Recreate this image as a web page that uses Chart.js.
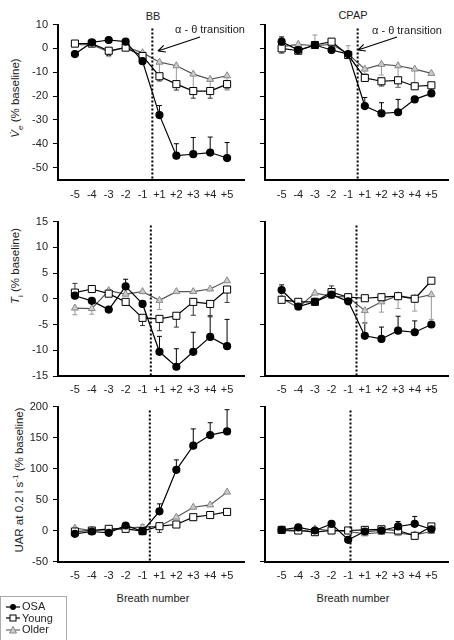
<!DOCTYPE html>
<html lang="en">
<head>
<meta charset="UTF-8">
<title>Breath transition panels</title>
<style>
  body { margin: 0; width: 454px; height: 640px; position: relative; overflow: hidden; background: #fff;
         font-family: "Liberation Sans", Arial, sans-serif; color: #222; }
  canvas { position: absolute; }
  .t { position: absolute; font-size: 11px; white-space: nowrap; transform: translate(-50%, -50%); }
  .yl { position: absolute; font-size: 11.5px; white-space: nowrap; transform: translate(-50%, -50%) rotate(-90deg); }
  .yl sub, .yl sup { font-size: 8px; }
  #legend { position: absolute; left: 0; top: 596px; width: 65px; height: 50px; border: 1px solid #aaa; font-size: 11px; }
  #legend div { height: 11.5px; line-height: 11.5px; display: flex; align-items: center; margin-left: 5px; }
  #legend svg { margin-right: 2px; }
</style>
</head>
<body>
<div class="t" style="left:153px;top:16px">BB</div>
<div class="t" style="left:353px;top:15px">CPAP</div>
<div class="yl" style="left:17px;top:98px"><i>V&#775;</i><sub><i>e</i></sub> (% baseline)</div>
<div class="yl" style="left:17px;top:266px"><i>T</i><sub>i</sub> (% baseline)</div>
<div class="yl" style="left:18px;top:480px">UAR at 0.2 l s<sup>-1</sup> (% baseline)</div>
<div class="t" style="left:153px;top:598px">Breath number</div>
<div class="t" style="left:353px;top:598px">Breath number</div>

<canvas id="bbVe" width="250" height="200" style="left:0;top:10px"></canvas>
<canvas id="cpapVe" width="204" height="200" style="left:250px;top:10px"></canvas>
<canvas id="bbTi" width="250" height="190" style="left:0;top:210px"></canvas>
<canvas id="cpapTi" width="204" height="190" style="left:250px;top:210px"></canvas>
<canvas id="bbUar" width="250" height="200" style="left:0;top:395px"></canvas>
<canvas id="cpapUar" width="204" height="200" style="left:250px;top:395px"></canvas>

<div id="legend" style="padding-top:4px">
  <div><svg width="14" height="8"><line x1="0" y1="4" x2="14" y2="4" stroke="#000" stroke-width="1.2"/><circle cx="7" cy="4" r="3" fill="#000"/></svg>OSA</div>
  <div><svg width="14" height="8"><line x1="0" y1="4" x2="14" y2="4" stroke="#000" stroke-width="1.2"/><rect x="4" y="1" width="6" height="6" fill="#fff" stroke="#000"/></svg>Young</div>
  <div><svg width="14" height="8"><line x1="0" y1="4" x2="14" y2="4" stroke="#666" stroke-width="1.2"/><polygon points="7,0.5 10.5,7 3.5,7" fill="#ccc" stroke="#888"/></svg>Older</div>
</div>

<script src="https://cdn.jsdelivr.net/npm/chart.js"></script>
<script>
  const breaths = ['-5', '-4', '-3', '-2', '-1', '+1', '+2', '+3', '+4', '+5'];

  // Ve (% baseline)
  const bbVeOSA     = [-2.4, 2.5, 3.5, 2.8, -5.4, -28, -45, -44.4, -43.7, -46];
  const bbVeYoung   = [2, 2, -1, 0.3, -3.2, -11.7, -15, -17.9, -17.9, -15];
  const bbVeOlder   = [1.5, 1.5, -1.5, 0.5, -1.8, -5.8, -7.3, -10.8, -13, -11.5];
  const cpapVeOSA   = [2.8, -0.7, 1.4, -0.7, -2.4, -24.2, -27.3, -26.8, -21.4, -18.9];
  const cpapVeYoung = [0, -1, 1.4, 2.8, -2.8, -12.4, -13.8, -13.4, -15.9, -15.5];
  const cpapVeOlder = [0.7, 1.7, 1.1, 1.7, -2.4, -8.7, -6.7, -7.3, -8.7, -10.5];

  // Ti (% baseline)
  const bbTiOSA     = [0.6, -0.4, -2.1, 2.4, -1, -10.3, -13.2, -10.3, -7.4, -9.2];
  const bbTiYoung   = [1.2, 1.9, 1, -0.6, -3.7, -3.9, -3.3, -0.6, -1, 1.8];
  const bbTiOlder   = [-1.8, -1.9, 1.6, 0.9, 1.4, -0.3, 1.4, 1.4, 1.9, 3.5];
  const cpapTiOSA   = [1.7, -1.5, -0.6, 0.8, -0.5, -7.2, -7.8, -6.2, -6.5, -5];
  const cpapTiYoung = [-0.2, -0.6, -0.6, 1.3, 0.3, 0.1, 0.3, 0.5, 0, 3.5];
  const cpapTiOlder = [0.1, -1.7, 1.1, 0.5, 0.3, -2.3, -0.6, 0.6, 0.1, 0.8];

  // UAR at 0.2 l/s (% baseline)
  const bbUarOSA     = [-5.4, -1.6, -3.8, 8.1, -1.1, 31, 98, 137, 154, 160];
  const bbUarYoung   = [-1.6, 0, 2.7, 2.7, -1, 7, 9.7, 21.5, 25, 30];
  const bbUarOlder   = [3.8, 0, 1, 4.3, 5.4, 7, 21.5, 37.6, 41.3, 62];
  const cpapUarOSA   = [1, 5, 0, 10.7, -15, -1.6, 0, 6.5, 10.7, 2];
  const cpapUarYoung = [1, 0, -2.7, 0, 0, 1, 2, 0, -8.6, 6.5];
  const cpapUarOlder = [0, -1.6, 2.7, -0.5, -1.6, -5.4, -3.2, -4.3, -7, -1.6];

  // error bars, signed: + drawn upward, - drawn downward
  const bbVeOSAErr     = [0, 0, 0, 0, 0, 4, 5, 7, 6.5, 6.5];
  const bbVeYoungErr   = [0, 0, -2, 0, 0, -2, -2.5, -3, -3, -2];
  const bbVeOlderErr   = [0, 0, -2, 0, 0, -7, -8, -7, -5, -6];
  const cpapVeOSAErr   = [2, 0, 0, 0, 0, 3.6, 4.5, 5.4, 0, 0];
  const cpapVeYoungErr = [-2, 0, 0, 0, 0, 0, -2, -3, 0, -2];
  const cpapVeOlderErr = [0, 0, 4.5, 0, 3.5, -2, -4.5, -9, -6, 0];
  const bbTiOSAErr     = [0, 0, 0, 1.4, 0, 3, 3.5, 3.8, 4.1, 5.2];
  const bbTiYoungErr   = [1.8, 0, 0, 0, -1.5, -2.3, -2.2, -2.6, -2.5, -2.5];
  const bbTiOlderErr   = [-1.3, -1.1, 0, 0, 0, -1.8, 0, 0, 0, 0];
  const cpapTiOSAErr   = [1, 0, 0, 0, 0, 2.5, 2.3, 2.8, 2.2, 0];
  const cpapTiYoungErr = [0, 0, 0, 1.2, 0, 0, 0, 0, 0, 0];
  const cpapTiOlderErr = [0, -0.5, 0, 0, 0, -2.5, -2, -2.5, -2.5, -4.8];
  const bbUarOSAErr    = [0, 0, 0, 0, 0, 12, 16, 27, 20, 35];
  const bbUarYoungErr  = [0, 0, 0, 0, 0, -10, 0, -5, 0, 0];
  const bbUarOlderErr  = [0, 0, 0, 0, 4, 0, 0, 0, 0, 0];
  const cpapUarOSAErr  = [0, 0, 0, 0, 0, 0, 0, 8, 12, 0];
  const cpapUarYoungErr = [0, 0, 0, 0, 0, 0, 0, 0, 0, 0];
  const cpapUarOlderErr = [0, 0, 0, 0, 0, 0, 0, -4, 0, -3];

  // where the dotted alpha-theta line sits (breath index)
  const transitionBB = [4.58, 4.49, 4.43];
  const transitionCPAP = [4.57, 4.5, 4.14];

  const FONT = '"Liberation Sans", Arial, sans-serif';

  const errorBars = {
    id: 'errorBars',
    beforeDatasetsDraw(chart) {
      const { ctx, scales: { x, y } } = chart;
      chart.data.datasets.forEach(ds => {
        ctx.save();
        ctx.strokeStyle = ds.errColor;
        ctx.lineWidth = 1;
        ds.data.forEach((p, j) => {
          const e = ds.errors[j];
          if (!e) return;
          const px = x.getPixelForValue(p.x);
          const y0 = y.getPixelForValue(p.y), y1 = y.getPixelForValue(p.y + e);
          ctx.beginPath();
          ctx.moveTo(px, y0); ctx.lineTo(px, y1);
          ctx.moveTo(px - 2.5, y1); ctx.lineTo(px + 2.5, y1);
          ctx.stroke();
        });
        ctx.restore();
      });
    }
  };

  const transitionLine = {
    id: 'transition',
    afterDatasetsDraw(chart, args, o) {
      const { ctx, chartArea, scales: { x } } = chart;
      const px = x.getPixelForValue(o.at);
      ctx.save();
      ctx.strokeStyle = '#000';
      ctx.lineWidth = 2;
      ctx.setLineDash([2, 2]);
      ctx.beginPath();
      ctx.moveTo(px, chartArea.top + 4);
      ctx.lineTo(px, chartArea.bottom);
      ctx.stroke();
      ctx.restore();
    }
  };

  const note = {
    id: 'note',
    afterDraw(chart, args, o) {
      if (!o.text) return;
      const ctx = chart.ctx;
      ctx.save();
      ctx.font = '11px ' + FONT;
      ctx.fillStyle = '#222';
      ctx.textBaseline = 'middle';
      ctx.fillText(o.text, o.tx, o.ty);
      const [x0, y0, x1, y1] = o.arrow;
      const a = Math.atan2(y1 - y0, x1 - x0);
      ctx.strokeStyle = '#000';
      ctx.lineWidth = 1.2;
      ctx.beginPath();
      ctx.moveTo(x0, y0); ctx.lineTo(x1, y1);
      for (const s of [-0.45, 0.45]) {
        ctx.moveTo(x1, y1);
        ctx.lineTo(x1 - 8 * Math.cos(a + s), y1 - 8 * Math.sin(a + s));
      }
      ctx.stroke();
      ctx.restore();
    }
  };

  const pts = arr => arr.map((v, i) => ({ x: i, y: v }));

  function makePanel(id, osa, young, older, errs, y, at, labels, pad, xh, tickPad, noteOpts) {
    new Chart(document.getElementById(id), {
      type: 'line',
      data: {
        datasets: [
          { label: 'OSA', data: pts(osa), errors: errs[0], errColor: '#000',
            borderColor: '#000', borderWidth: 1.2, pointStyle: 'circle', pointRadius: 3.5,
            pointBackgroundColor: '#000', pointBorderColor: '#000' },
          { label: 'Young', data: pts(young), errors: errs[1], errColor: '#333',
            borderColor: '#000', borderWidth: 1.2, pointStyle: 'rect', pointRadius: 5,
            pointBackgroundColor: '#fff', pointBorderColor: '#000', pointBorderWidth: 1 },
          { label: 'Older', data: pts(older), errors: errs[2], errColor: '#999',
            borderColor: '#555', borderWidth: 1.2, pointStyle: 'triangle', pointRadius: 4,
            pointBackgroundColor: '#ccc', pointBorderColor: '#888', pointBorderWidth: 1 }
        ]
      },
      options: {
        responsive: false,
        animation: false,
        layout: { padding: { top: pad.top, right: pad.right, left: 0, bottom: 0 } },
        plugins: {
          legend: { display: false },
          tooltip: { enabled: false },
          transition: { at: at },
          note: noteOpts || {}
        },
        scales: {
          x: {
            type: 'linear', min: -1, max: 10,
            afterBuildTicks: s => { s.ticks = breaths.map((b, i) => ({ value: i })); },
            afterFit: s => { s.height = xh; },
            grid: { drawOnChartArea: false, drawTicks: false, color: 'rgba(0,0,0,0)' },
            border: { display: true, color: '#000', width: 2 },
            ticks: { padding: tickPad, color: '#222', font: { family: FONT, size: 11 },
                     maxRotation: 0, autoSkip: false, callback: v => breaths[v] }
          },
          y: {
            min: y.min, max: y.max,
            afterFit: s => { s.width = labels ? 58 : 15; },
            grid: { drawOnChartArea: false, drawTicks: true, tickLength: 5, color: '#000' },
            border: { display: true, color: '#000', width: 2 },
            ticks: { display: labels, stepSize: y.step, includeBounds: false, padding: 5,
                     color: '#222', font: { family: FONT, size: 11 } }
          }
        }
      },
      plugins: [errorBars, transitionLine, note]
    });
  }

  makePanel('bbVe', bbVeOSA, bbVeYoung, bbVeOlder, [bbVeOSAErr, bbVeYoungErr, bbVeOlderErr],
    { min: -55, max: 10, step: 10 }, transitionBB[0], true, { top: 14.5, right: 2 }, 30.5, 8.5,
    { text: '\u03b1 - \u03b8 transition', tx: 175, ty: 20, arrow: [200, 27, 158, 41] });
  makePanel('cpapVe', cpapVeOSA, cpapVeYoung, cpapVeOlder, [cpapVeOSAErr, cpapVeYoungErr, cpapVeOlderErr],
    { min: -55, max: 10, step: 10 }, transitionCPAP[0], false, { top: 14.5, right: 0 }, 30.5, 8.5,
    { text: '\u03b1 - \u03b8 transition', tx: 122, ty: 21, arrow: [147, 27, 108, 40] });
  makePanel('bbTi', bbTiOSA, bbTiYoung, bbTiOlder, [bbTiOSAErr, bbTiYoungErr, bbTiOlderErr],
    { min: -15, max: 15, step: 5 }, transitionBB[1], true, { top: 11.5, right: 2 }, 24, 7.5);
  makePanel('cpapTi', cpapTiOSA, cpapTiYoung, cpapTiOlder, [cpapTiOSAErr, cpapTiYoungErr, cpapTiOlderErr],
    { min: -15, max: 15, step: 10 }, transitionCPAP[1], false, { top: 11.5, right: 0 }, 24, 7.5);
  makePanel('bbUar', bbUarOSA, bbUarYoung, bbUarOlder, [bbUarOSAErr, bbUarYoungErr, bbUarOlderErr],
    { min: -50, max: 200, step: 50 }, transitionBB[2], true, { top: 11.5, right: 2 }, 33.5, 8);
  makePanel('cpapUar', cpapUarOSA, cpapUarYoung, cpapUarOlder, [cpapUarOSAErr, cpapUarYoungErr, cpapUarOlderErr],
    { min: -50, max: 200, step: 50 }, transitionCPAP[2], false, { top: 11.5, right: 0 }, 33.5, 8);
</script>
</body>
</html>
